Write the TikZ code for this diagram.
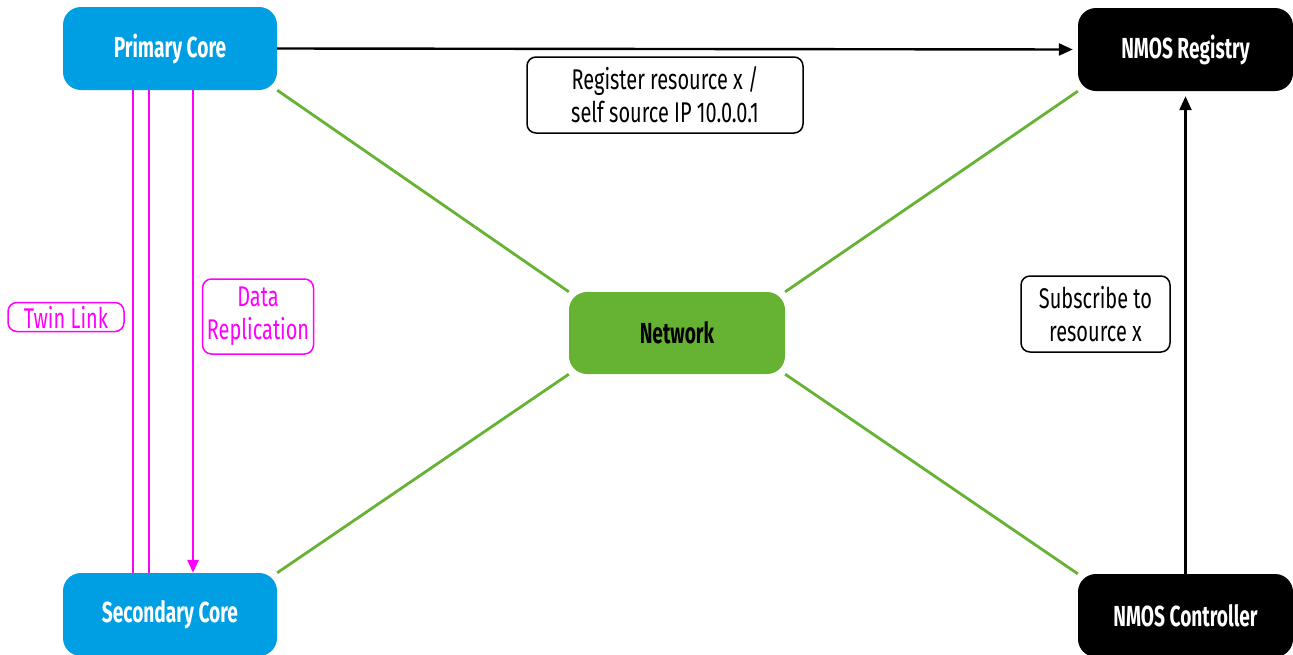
\documentclass[tikz,border=0pt]{standalone}
\usepackage{fontspec}
\setmainfont{Fira Sans}[FakeStretch=0.7]
\newfontfamily\boxfont{Fira Sans}[FakeStretch=0.66]
\newfontfamily\notefont{Fira Sans}[FakeStretch=0.7]
\usetikzlibrary{arrows.meta,backgrounds,calc}

\definecolor{coreblue}{RGB}{0,159,227}
\definecolor{netgreen}{RGB}{102,178,50}
\definecolor{twinpink}{RGB}{255,0,255}

\tikzset{
  box/.style={rounded corners=18pt, minimum width=214pt, minimum height=83pt,
    inner sep=0pt, font=\boxfont\fontsize{29}{33}\selectfont\bfseries, text=white},
  corebox/.style={box, fill=coreblue},
  nmosbox/.style={box, fill=black},
  netbox/.style={box, fill=netgreen, text=black, minimum width=216pt, minimum height=82pt},
  note/.style={draw=black, line width=1.5pt, rounded corners=9pt, inner sep=0pt,
    align=center, font=\notefont\fontsize{28.5}{33}\selectfont},
  pinknote/.style={note, draw=twinpink, text=twinpink},
  msg/.style={draw=black, line width=2.4pt, -{Triangle[width=12pt,length=14pt]}},
  netlink/.style={draw=netgreen, line width=2.8pt},
  twin/.style={draw=twinpink, line width=2.8pt},
}

\begin{document}
\begin{tikzpicture}[x=1pt,y=-1pt]
\useasboundingbox (0,0) rectangle (1293,654);

% main blocks
\node[corebox] (pc) at (170,48.5) {Primary Core};
\node[corebox] (sc) at (170,614.5) {Secondary Core};
\node[nmosbox, minimum width=215pt] (reg) at (1185.5,49.5) {NMOS Registry};
\node[nmosbox, minimum width=215pt] (ctl) at (1185.5,615.5) {NMOS Controller};
\node[netbox] (net) at (677,333) {Network};

% annotations
\node[pinknote, minimum width=116pt, minimum height=29pt] (tl) at (66,317) {Twin Link};
\node[pinknote, minimum width=111pt, minimum height=75pt] (dr) at (258,316.5) {Data\\Replication};
\node[note, minimum width=276pt, minimum height=76pt] (rr) at (665,95) {Register resource x /\\self source IP 10.0.0.1};
\node[note, minimum width=149pt, minimum height=76pt] (sr) at (1095.5,314) {Subscribe to\\resource x};

% network links behind the blocks
\begin{scope}[on background layer]
  \draw[netlink] (pc.south east) -- (net.north west);
  \draw[netlink] (sc.north east) -- (net.south west);
  \draw[netlink] (net.north east) -- (reg.south west);
  \draw[netlink] (net.south east) -- (ctl.north west);
\end{scope}

% twin link and replication between the cores
\draw[twin] ([xshift=-37pt]pc.south) -- ([xshift=-37pt]sc.north);
\draw[twin] ([xshift=-21pt]pc.south) -- ([xshift=-21pt]sc.north);
\draw[twin, -{Triangle[width=11pt,length=13pt]}] ([xshift=23pt]pc.south) -- ([xshift=23pt]sc.north);

% NMOS messages
\draw[msg, shorten >=5pt] (pc.east) -- (reg.west);
\draw[msg, shorten >=5pt] (ctl.north) -- (reg.south);
\end{tikzpicture}
\end{document}
